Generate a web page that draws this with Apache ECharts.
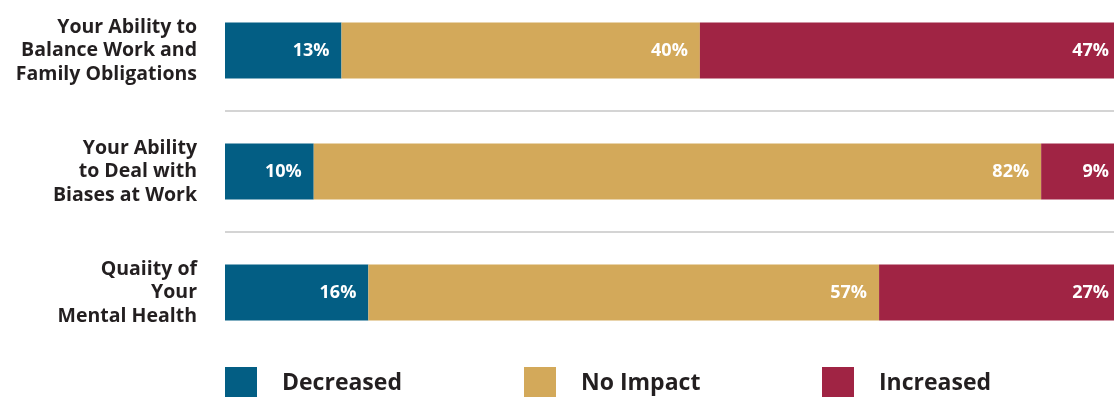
<!DOCTYPE html>
<html>
<head>
<meta charset="utf-8">
<script src="https://cdn.jsdelivr.net/npm/echarts@6/dist/echarts.min.js"></script>
<style>
  html, body { margin: 0; padding: 0; background: #fff; }
  #chart { width: 1114px; height: 397px; }
</style>
</head>
<body>
<div id="chart"></div>
<script>
// Survey categories (top to bottom)
const categories = [
  'Your Ability to\nBalance Work and\nFamily Obligations',
  'Your Ability\nto Deal with\nBiases at Work',
  'Quaiity of\nYour\nMental Health'
];
// Share of respondents per answer, in percent
const decreased = [13, 10, 16];
const noImpact  = [40, 82, 57];
const increased = [47, 9, 27];

const seriesNames = ['Decreased', 'No Impact', 'Increased'];
const seriesColors = ['#035e84', '#d3a95a', '#a02444'];
const rawSeries = [decreased, noImpact, increased];

// Each row is drawn as a 100% stacked bar (rows whose rounded shares
// do not add up to exactly 100 are scaled to their own total).
const rowTotals = categories.map((_, i) => rawSeries.reduce((s, arr) => s + arr[i], 0));

const FONT = '"Open Sans", sans-serif';
const INK = '#231f20';

const series = rawSeries.map((arr, k) => ({
  name: seriesNames[k],
  type: 'bar',
  stack: 'total',
  barWidth: 56,
  itemStyle: { color: seriesColors[k] },
  label: {
    show: true,
    position: 'insideRight',
    distance: 12,
    color: '#ffffff',
    fontFamily: FONT,
    fontWeight: 'bold',
    fontSize: 18,
    formatter: p => arr[p.dataIndex] + '%'
  },
  data: arr.map((v, i) => v / rowTotals[i] * 100)
}));

// One legend block per answer, laid out in evenly spaced columns
const legendLefts = [225, 524, 822];
const legends = seriesNames.map((name, k) => ({
  data: [name],
  left: legendLefts[k],
  top: 367,
  padding: 0,
  itemWidth: 32,
  itemHeight: 32,
  icon: 'rect',
  selectedMode: false,
  textStyle: {
    color: INK,
    fontFamily: FONT,
    fontWeight: 'bold',
    fontSize: 23,
    padding: [0, 0, 0, 20]
  }
}));

const chart = echarts.init(document.getElementById('chart'), null, { renderer: 'canvas' });
chart.setOption({
  animation: false,
  backgroundColor: '#ffffff',
  grid: {
    left: 225, right: -7, top: -10, bottom: 44,
    containLabel: false,
    outerBoundsMode: 'none'
  },
  xAxis: {
    type: 'value', min: 0, max: 100,
    show: false
  },
  yAxis: {
    type: 'category',
    inverse: true,
    data: categories,
    axisLine: { show: false },
    axisTick: { show: false },
    axisLabel: {
      margin: 28,
      color: INK,
      fontFamily: FONT,
      fontWeight: 'bold',
      fontSize: 19.5,
      lineHeight: 23.5,
      align: 'right'
    },
    splitLine: {
      show: true,
      lineStyle: {
        // only the two dividers between rows are visible
        color: ['rgba(0,0,0,0)', '#c6c6c6', '#c6c6c6', 'rgba(0,0,0,0)'],
        width: 1.5
      }
    }
  },
  legend: legends,
  series: series
});
</script>
</body>
</html>
